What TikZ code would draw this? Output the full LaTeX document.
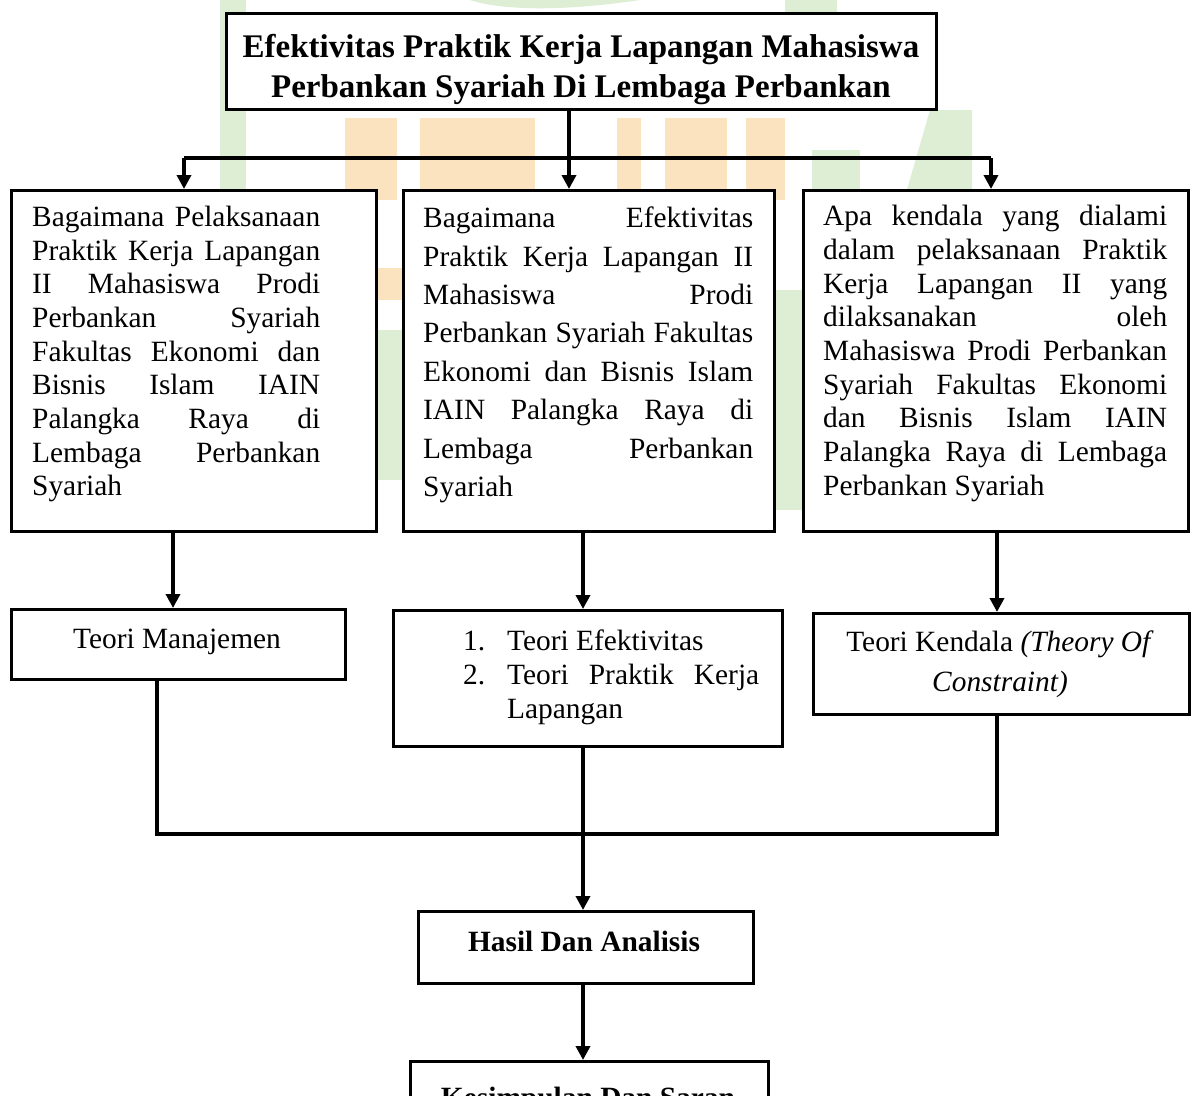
\documentclass[tikz,border=0pt]{standalone}
\usepackage{fontspec}
\setmainfont{Liberation Serif}
\usetikzlibrary{arrows.meta}
\tolerance=10000
\hbadness=10000
\hyphenpenalty=10000
\exhyphenpenalty=10000
\definecolor{wmgreen}{HTML}{DDEED5}
\definecolor{wmorange}{HTML}{FBE3BF}
\begin{document}
\begin{tikzpicture}[x=1pt,y=-1pt,
  box/.style={draw, fill=white, line width=2.6pt, inner sep=0pt, anchor=north west},
  conn/.style={line width=3.5pt, line join=miter},
  arr/.style={conn, -{Triangle[width=14pt,length=14pt]}},
  body/.style={font=\fontsize{29.4}{33.7}\selectfont, inner sep=0pt},
  bodyj/.style={body, align=justify, anchor=north west},
  bodyb/.style={font=\fontsize{29.4}{33.7}\selectfont\bfseries, inner sep=0pt, anchor=base},
  titlef/.style={font=\fontsize{33}{40}\selectfont\bfseries, inner sep=0pt, align=center, anchor=north},
  wmg/.style={fill=wmgreen},
  wmo/.style={fill=wmorange},
]
\path[use as bounding box, clip] (0,0) rectangle (1191,1095);
\fill[white] (0,0) rectangle (1191,1095);

% faint watermark
\fill[wmg] (220,0) -- (246,0) -- (246,200) -- (220,200) -- cycle;
\fill[wmg] (470,0) .. controls (500,10) and (560,12) .. (640,0) -- cycle;
\fill[wmg] (785,0) -- (837,0) -- (837,14) -- (785,14) -- cycle;
\fill[wmg] (930,110) -- (972,110) -- (972,200) -- (904,200) -- cycle;
\fill[wmg] (812,150) -- (860,150) -- (860,200) -- (812,200) -- cycle;
\fill[wmo] (345,118) -- (397,118) -- (397,200) -- (345,200) -- cycle;
\fill[wmo] (420,118) -- (535,118) -- (535,200) -- (420,200) -- cycle;
\fill[wmo] (617,118) -- (641,118) -- (641,200) -- (617,200) -- cycle;
\fill[wmo] (665,118) -- (727,118) -- (727,200) -- (665,200) -- cycle;
\fill[wmo] (746,118) -- (785,118) -- (785,200) -- (746,200) -- cycle;
\fill[wmo] (376,268) -- (402,268) -- (402,300) -- (376,300) -- cycle;
\fill[wmg] (376,330) -- (402,330) -- (402,480) -- (376,480) -- cycle;
\fill[wmg] (773,290) -- (802,290) -- (802,510) -- (773,510) -- cycle;

% boxes
\node[box, minimum width=710pt, minimum height=96pt] (title) at (225,12) {};
\node[box, minimum width=365pt, minimum height=341pt] (q1) at (10,189) {};
\node[box, minimum width=371pt, minimum height=341pt] (q2) at (402,189) {};
\node[box, minimum width=385pt, minimum height=341pt] (q3) at (802,189) {};
\node[box, minimum width=334pt, minimum height=70pt] (tm) at (10,608) {};
\node[box, minimum width=389pt, minimum height=136pt] (mt) at (392,609) {};
\node[box, minimum width=376pt, minimum height=101pt] (tk) at (812,612) {};
\node[box, minimum width=335pt, minimum height=72pt] (hasil) at (417,910) {};
\node[box, minimum width=358pt, minimum height=80pt] (kes) at (409,1060) {};

% texts
\node[titlef] (ttitle) at (581,34) {Efektivitas Praktik Kerja Lapangan Mahasiswa\\Perbankan Syariah Di Lembaga Perbankan};

\node[bodyj, text width=288pt] (t1) at (32,205.7) {Bagaimana Pelaksanaan\linebreak Praktik Kerja Lapangan\linebreak II Mahasiswa Prodi\linebreak Perbankan Syariah\linebreak Fakultas Ekonomi dan\linebreak Bisnis Islam IAIN\linebreak Palangka Raya di\linebreak Lembaga Perbankan\linebreak Syariah};

\node[bodyj, text width=330pt, font=\fontsize{29.4}{38.4}\selectfont] (t2) at (423,206.7) {Bagaimana Efektivitas\linebreak Praktik Kerja Lapangan II\linebreak Mahasiswa Prodi\linebreak Perbankan Syariah Fakultas\linebreak Ekonomi dan Bisnis Islam\linebreak IAIN Palangka Raya di\linebreak Lembaga Perbankan\linebreak Syariah};

\node[bodyj, text width=344pt] (t3) at (823,205) {Apa kendala yang dialami\linebreak dalam pelaksanaan Praktik\linebreak Kerja Lapangan II yang\linebreak dilaksanakan oleh\linebreak Mahasiswa Prodi Perbankan\linebreak Syariah Fakultas Ekonomi\linebreak dan Bisnis Islam IAIN\linebreak Palangka Raya di Lembaga\linebreak Perbankan Syariah};

\node[body, anchor=base] (ttm) at (177,648) {Teori Manajemen};

\node[body, anchor=north west, align=left] (tmt) at (463,630) {\makebox[44pt][l]{1.}Teori Efektivitas\\\makebox[44pt][l]{2.}\makebox[252pt][s]{Teori Praktik Kerja}\\\hspace*{44pt}Lapangan};

\node[body, anchor=north, align=center, font=\fontsize{29.4}{40}\selectfont] (ttk) at (1000,630.5) {Teori Kendala \textit{(Theory Of}\\\textit{Constraint)}};

\node[bodyb] (thasil) at (584,951) {Hasil Dan Analisis};
\node[bodyb] (tkes) at (588,1107) {Kesimpulan Dan Saran};

% connectors
\coordinate (jm) at (569,158);
\coordinate (jl) at (184,158);
\coordinate (jr) at (991,158);
\draw[conn] (title.south -| jm) -- (jm);
\draw[conn] (jl) -- (jr);
\draw[arr] (jl) -- (jl |- q1.north);
\draw[arr] (jm) -- (jm |- q2.north);
\draw[arr] (jr) -- (jr |- q3.north);

\coordinate (x1) at (173,0);
\coordinate (xm) at (583,0);
\coordinate (x3) at (997,0);
\draw[arr] (q1.south -| x1) -- (tm.north -| x1);
\draw[arr] (q2.south -| xm) -- (mt.north -| xm);
\draw[arr] (q3.south -| x3) -- (tk.north -| x3);

\coordinate (c1) at (157,834);
\coordinate (c2) at (997,834);
\draw[conn] (tm.south -| c1) -- (c1) -- (c2) -- (tk.south -| c2);
\draw[arr] (mt.south -| xm) -- (hasil.north -| xm);
\draw[arr] (hasil.south -| xm) -- (kes.north -| xm);
\end{tikzpicture}
\end{document}
